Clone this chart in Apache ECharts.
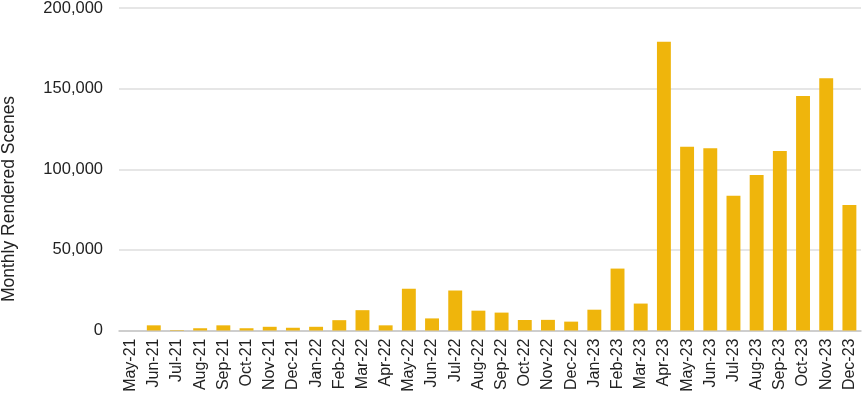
<!DOCTYPE html>
<html>
<head>
<meta charset="utf-8">
<script src="https://cdn.jsdelivr.net/npm/echarts@6/dist/echarts.min.js"></script>
<style>
html,body{margin:0;padding:0;background:#fff;}
#c{width:865px;height:397px;}
</style>
</head>
<body>
<div id="c"></div>
<script>
const categories = ["May-21","Jun-21","Jul-21","Aug-21","Sep-21","Oct-21","Nov-21","Dec-21",
  "Jan-22","Feb-22","Mar-22","Apr-22","May-22","Jun-22","Jul-22","Aug-22","Sep-22","Oct-22","Nov-22","Dec-22",
  "Jan-23","Feb-23","Mar-23","Apr-23","May-23","Jun-23","Jul-23","Aug-23","Sep-23","Oct-23","Nov-23","Dec-23"];
const renderedScenes = [0, 3200, 300, 1400, 3200, 1400, 2300, 1700,
  2300, 6400, 12600, 3200, 25900, 7500, 24800, 12300, 11100, 6500, 6600, 5500,
  12900, 38400, 16700, 179000, 114000, 113000, 83500, 96500, 111300, 145500, 156500, 77800];
const yTicks = { min: 0, max: 200000, interval: 50000 };
const yTitle = 'Monthly Rendered Scenes';

const FONT = 'Liberation Sans, Arial, sans-serif';
const chart = echarts.init(document.getElementById('c'), null, {renderer:'canvas'});
chart.setOption({
  animation: false,
  grid: { left: 119, right: 4, top: 8, bottom: 66.5, containLabel: false, outerBoundsMode: 'none' },
  xAxis: {
    type: 'category',
    data: categories,
    axisTick: { show: false },
    axisLine: { lineStyle: { color: '#c6c6c6', width: 1.5 } },
    axisLabel: {
      rotate: 90, interval: 0, margin: 8,
      fontFamily: FONT, fontSize: 16, color: '#222'
    }
  },
  yAxis: {
    type: 'value',
    min: yTicks.min, max: yTicks.max, interval: yTicks.interval,
    axisLine: { show: false },
    axisTick: { show: false },
    splitLine: { lineStyle: { color: '#dedede', width: 1.5 } },
    axisLabel: {
      margin: 16,
      fontFamily: FONT, fontSize: 16.5, color: '#222',
      formatter: v => v.toLocaleString('en-US')
    }
  },
  graphic: [{
    type: 'text',
    x: 9, y: 199,
    rotation: Math.PI / 2,
    style: {
      text: yTitle,
      font: '17.5px ' + FONT,
      fill: '#222',
      align: 'center',
      verticalAlign: 'middle'
    }
  }],
  series: [{
    type: 'bar',
    data: renderedScenes,
    barCategoryGap: '40%',
    itemStyle: { color: '#EFB50C' }
  }]
});
</script>
</body>
</html>
